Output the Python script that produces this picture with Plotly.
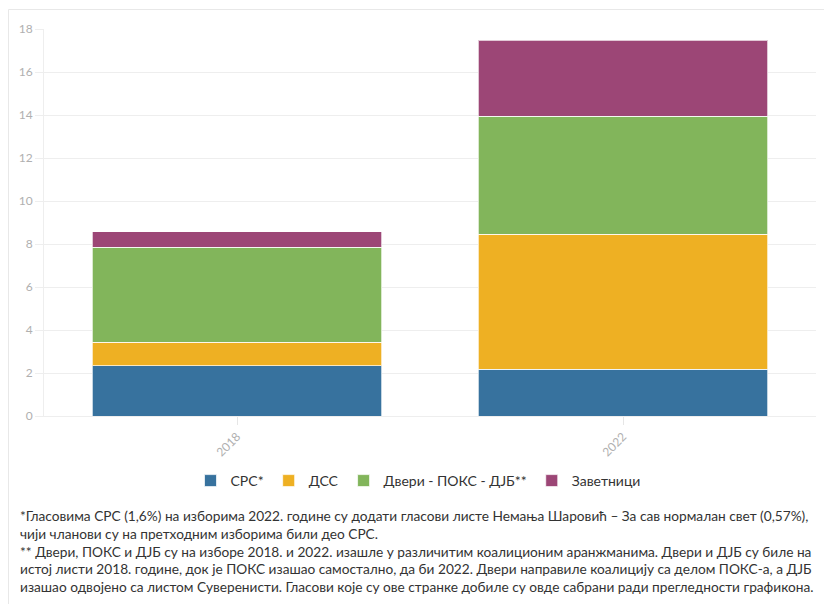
import plotly.graph_objects as go

years = ["2018", "2022"]
series_names = ["СРС*", "ДСС", "Двери - ПОКС - ДЈБ**", "Заветници"]
srs = [2.33, 2.18]
dss = [1.11, 6.28]
dveri = [4.42, 5.48]
zavetnici = [0.70, 3.54]
colors = ["#37729e", "#eeb023", "#82b55b", "#9c4676"]
y_ticks = [0, 2, 4, 6, 8, 10, 12, 14, 16, 18]
footnote = ("*Гласовима СРС (1,6%) на изборима 2022. године су додати гласови листе Немања Шаровић – За сав нормалан свет (0,57%),<br>"
            "чији чланови су на претходним изборима били део СРС.<br>"
            "** Двери, ПОКС и ДЈБ су на изборе 2018. и 2022. изашле у различитим коалиционим аранжманима. Двери и ДЈБ су биле на<br>"
            "истој листи 2018. године, док је ПОКС изашао самостално, да би 2022. Двери направиле коалицију са делом ПОКС-а, а ДЈБ<br>"
            "изашао одвојено са листом Суверенисти. Гласови које су ове странке добиле су овде сабрани ради прегледности графикона.")

OFF = 8  # page body margin
W, H = 832 - OFF, 604 - OFF
# plot area in page pixels: x 44..816, y 29..416
L, R, T = 44 - OFF, 832 - 816, 29 - OFF
B = H - (416 - OFF)
pw, ph = W - L - R, H - T - B

def px(x):
    return (x - OFF - L) / pw

def py(y):
    return (416 - y) / ph

fig = go.Figure()
for name, vals, col in zip(series_names, [srs, dss, dveri, zavetnici], colors):
    fig.add_trace(go.Bar(
        x=years, y=vals, name=name,
        marker=dict(color=col, line=dict(color="rgba(255,255,255,0.7)", width=1)),
    ))

fig.update_layout(
    width=W, height=H,
    barmode="stack", bargap=0.25,
    margin=dict(l=L, r=R, t=T, b=B),
    paper_bgcolor="white", plot_bgcolor="white",
    font=dict(family="Lato", color="#333"),
    showlegend=True,
    legend=dict(orientation="h", x=px(418), xanchor="center", y=py(481), yanchor="middle",
                font=dict(size=14, color="#333"), itemwidth=30, traceorder="normal"),
    xaxis=dict(type="category", tickangle=-45, tickfont=dict(size=12, color="#b0b0b0"),
               showgrid=False, ticks="outside", ticklen=8, tickcolor="#e6e6e6",
               showline=True, linecolor="#eeeeee", linewidth=1),
    yaxis=dict(range=[0, 18], tickvals=y_ticks, tickfont=dict(size=12, color="#b0b0b0"),
               showgrid=True, gridcolor="#eeeeee", gridwidth=1, zeroline=False,
               ticks="outside", ticklen=8, tickcolor="#eeeeee",
               showline=True, linecolor="#eeeeee", linewidth=1),
    annotations=[dict(
        text=footnote, xref="paper", yref="paper", x=px(18), y=py(505),
        xanchor="left", yanchor="top", align="left", showarrow=False,
        font=dict(size=13.7, color="#333", family="Lato"),
    )],
    shapes=[dict(type="rect", xref="paper", yref="paper",
                 x0=px(8.5), x1=px(900), y0=py(700), y1=py(9.5),
                 line=dict(color="#e8e8e8", width=1), layer="below")],
)

fig.write_html("out.html")
